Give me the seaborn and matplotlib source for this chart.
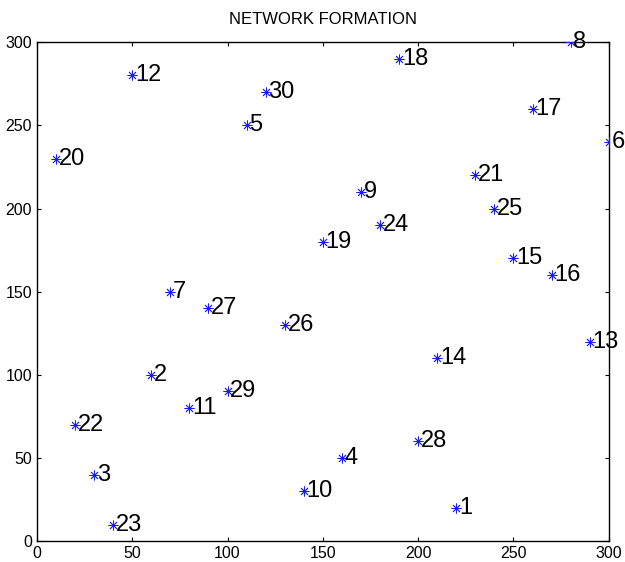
import matplotlib
matplotlib.use("Agg")
import matplotlib.pyplot as plt
import seaborn as sns
import pandas as pd

node_ids = list(range(1, 31))
x_vals = [220, 60, 30, 160, 110, 300, 70, 280, 170, 140,
          80, 50, 290, 210, 250, 270, 260, 190, 150, 10,
          230, 20, 40, 180, 240, 130, 90, 200, 100, 120]
y_vals = [20, 100, 40, 50, 250, 240, 150, 300, 210, 30,
          80, 280, 120, 110, 170, 160, 260, 290, 180, 230,
          220, 70, 10, 190, 200, 130, 140, 60, 90, 270]
x_ticks = [0, 50, 100, 150, 200, 250, 300]
y_ticks = [0, 50, 100, 150, 200, 250, 300]
title = "NETWORK FORMATION"

df = pd.DataFrame({"node": node_ids, "x": x_vals, "y": y_vals})

sns.set_style("ticks")
plt.rcParams["font.family"] = ["Liberation Sans", "DejaVu Sans"]

fig = plt.figure(figsize=(6.25, 5.62), dpi=100)
ax = fig.add_axes([0.059, 0.037, 0.915, 0.888])

sns.scatterplot(data=df, x="x", y="y", ax=ax, marker=(8, 2, 0),
                color="#1a1aff", edgecolor="#1a1aff", s=45, linewidth=0.6,
                legend=False, zorder=3)

for n, xv, yv in zip(node_ids, x_vals, y_vals):
    ax.text(xv + 1.5, yv, str(n), fontsize=17, ha="left", va="center",
            color="black", zorder=4)

ax.set_xlim(0, 300)
ax.set_ylim(0, 300)
ax.set_xticks(x_ticks)
ax.set_yticks(y_ticks)
ax.set_xlabel("")
ax.set_ylabel("")
ax.set_title(title, fontsize=12, pad=13, color="black")
ax.tick_params(direction="in", length=3, width=0.8, labelsize=11.5,
               top=True, right=True, colors="black")
for s in ax.spines.values():
    s.set_visible(True)
    s.set_linewidth(1.0)
    s.set_color("black")
ax.grid(False)

fig.savefig("out.png", dpi=100)
